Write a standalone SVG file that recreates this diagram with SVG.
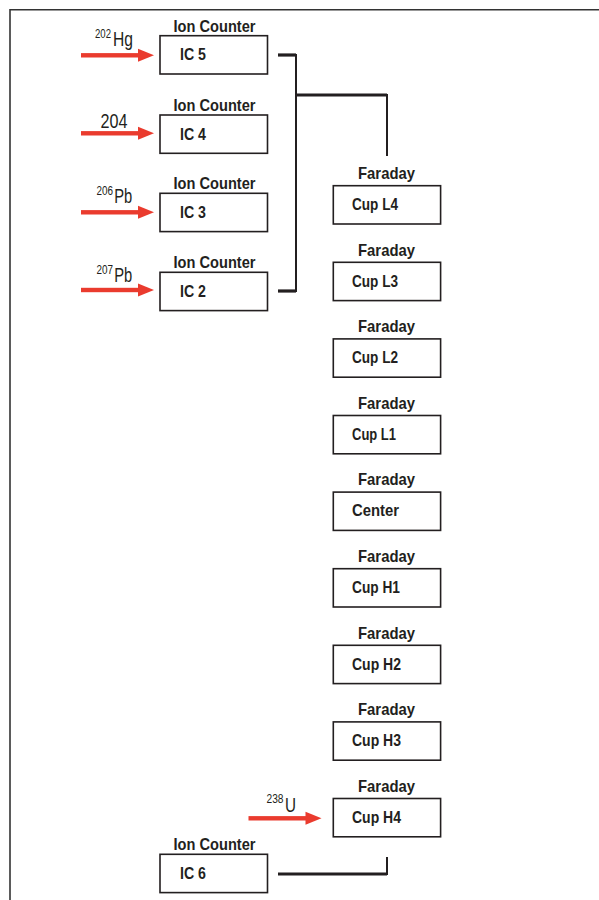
<svg xmlns="http://www.w3.org/2000/svg" width="599" height="900" viewBox="0 0 599 900">
<style>
.box{fill:#fff;stroke:#231f20;stroke-width:1.6}
.hd{font-family:"Liberation Sans",Arial,sans-serif;font-weight:bold;font-size:17px;fill:#231f20;text-anchor:middle}
.nm{font-family:"Liberation Sans",Arial,sans-serif;font-weight:bold;font-size:16.5px;fill:#231f20}
.iso{font-family:"Liberation Sans",Arial,sans-serif;font-size:21px;fill:#231f20}
.sup{font-size:12.5px}
.thick{stroke:#231f20;stroke-width:3.2;fill:none}
.thin{stroke:#231f20;stroke-width:2;fill:none}
.ar{fill:#ea3b2e}
</style>
<defs>
<g id="arrow"><rect x="0" y="-2.2" width="60" height="4.4" class="ar"/><polygon points="57,-6.5 73,0 57,6.5" class="ar"/></g>
</defs>
<path d="M10 900 V9.7 H599" fill="none" stroke="#333" stroke-width="1.6"/>
<g id="connectors">
<path class="thick" d="M278 55 H296"/>
<path class="thick" d="M278 291 H296"/>
<path class="thin" d="M296 54 V292"/>
<path class="thick" d="M295 95 H387"/>
<path class="thin" d="M387 94 V156"/>
<path class="thick" d="M278 874 H387"/>
<path class="thin" d="M387 857 V875"/>
</g>
<g id="beams">
<use href="#arrow" x="81" y="55.3"/>
<use href="#arrow" x="81" y="133.3"/>
<use href="#arrow" x="81" y="212.3"/>
<use href="#arrow" x="81" y="290"/>
<use href="#arrow" x="248.5" y="818.3"/>
<text class="iso" x="95" y="38"><tspan class="sup" textLength="16" lengthAdjust="spacingAndGlyphs">202</tspan><tspan x="113" y="46" textLength="20" lengthAdjust="spacingAndGlyphs">Hg</tspan></text>
<text class="iso" x="100.5" y="127.5" textLength="27" lengthAdjust="spacingAndGlyphs">204</text>
<text class="iso" x="96.5" y="195"><tspan class="sup" textLength="16.5" lengthAdjust="spacingAndGlyphs">206</tspan><tspan x="114.3" y="203.3" textLength="18" lengthAdjust="spacingAndGlyphs">Pb</tspan></text>
<text class="iso" x="96.5" y="273.5"><tspan class="sup" textLength="16.5" lengthAdjust="spacingAndGlyphs">207</tspan><tspan x="114.3" y="282" textLength="18" lengthAdjust="spacingAndGlyphs">Pb</tspan></text>
<text class="iso" x="266.5" y="803"><tspan class="sup" textLength="17" lengthAdjust="spacingAndGlyphs">238</tspan><tspan x="285" y="811.7" textLength="11" lengthAdjust="spacingAndGlyphs">U</tspan></text>
</g>
<g id="ic5"><text class="hd" x="214.5" y="31.5" textLength="82" lengthAdjust="spacingAndGlyphs">Ion Counter</text><rect class="box" x="160" y="35.7" width="107.5" height="38.3"/><text class="nm" x="180" y="60.3" textLength="26" lengthAdjust="spacingAndGlyphs">IC 5</text></g>
<g id="ic4"><text class="hd" x="214.5" y="110.5" textLength="82" lengthAdjust="spacingAndGlyphs">Ion Counter</text><rect class="box" x="160" y="115" width="107.5" height="38.3"/><text class="nm" x="180" y="139.5" textLength="26" lengthAdjust="spacingAndGlyphs">IC 4</text></g>
<g id="ic3"><text class="hd" x="214.5" y="189" textLength="82" lengthAdjust="spacingAndGlyphs">Ion Counter</text><rect class="box" x="160" y="193.3" width="107.5" height="38.3"/><text class="nm" x="180" y="218" textLength="26" lengthAdjust="spacingAndGlyphs">IC 3</text></g>
<g id="ic2"><text class="hd" x="214.5" y="268" textLength="82" lengthAdjust="spacingAndGlyphs">Ion Counter</text><rect class="box" x="160" y="272.3" width="107.5" height="38.3"/><text class="nm" x="180" y="296.8" textLength="26" lengthAdjust="spacingAndGlyphs">IC 2</text></g>
<g id="ic6"><text class="hd" x="214.5" y="850" textLength="82" lengthAdjust="spacingAndGlyphs">Ion Counter</text><rect class="box" x="160" y="854.3" width="107.5" height="38.3"/><text class="nm" x="180" y="879" textLength="26" lengthAdjust="spacingAndGlyphs">IC 6</text></g>
<g id="cupL4"><text class="hd" x="386.5" y="179" textLength="57" lengthAdjust="spacingAndGlyphs">Faraday</text><rect class="box" x="333.3" y="185.7" width="107.3" height="38.3"/><text class="nm" x="352" y="210" textLength="46" lengthAdjust="spacingAndGlyphs">Cup L4</text></g>
<g id="cupL3"><text class="hd" x="386.5" y="255.6" textLength="57" lengthAdjust="spacingAndGlyphs">Faraday</text><rect class="box" x="333.3" y="262.3" width="107.3" height="38.3"/><text class="nm" x="352" y="286.6" textLength="46" lengthAdjust="spacingAndGlyphs">Cup L3</text></g>
<g id="cupL2"><text class="hd" x="386.5" y="332.2" textLength="57" lengthAdjust="spacingAndGlyphs">Faraday</text><rect class="box" x="333.3" y="338.9" width="107.3" height="38.3"/><text class="nm" x="352" y="363.2" textLength="46" lengthAdjust="spacingAndGlyphs">Cup L2</text></g>
<g id="cupL1"><text class="hd" x="386.5" y="408.8" textLength="57" lengthAdjust="spacingAndGlyphs">Faraday</text><rect class="box" x="333.3" y="415.5" width="107.3" height="38.3"/><text class="nm" x="352" y="439.8" textLength="44" lengthAdjust="spacingAndGlyphs">Cup L1</text></g>
<g id="center"><text class="hd" x="386.5" y="485.4" textLength="57" lengthAdjust="spacingAndGlyphs">Faraday</text><rect class="box" x="333.3" y="492.1" width="107.3" height="38.3"/><text class="nm" x="352" y="516.2" textLength="47" lengthAdjust="spacingAndGlyphs">Center</text></g>
<g id="cupH1"><text class="hd" x="386.5" y="562" textLength="57" lengthAdjust="spacingAndGlyphs">Faraday</text><rect class="box" x="333.3" y="568.7" width="107.3" height="38.3"/><text class="nm" x="352" y="593" textLength="48" lengthAdjust="spacingAndGlyphs">Cup H1</text></g>
<g id="cupH2"><text class="hd" x="386.5" y="638.6" textLength="57" lengthAdjust="spacingAndGlyphs">Faraday</text><rect class="box" x="333.3" y="645.3" width="107.3" height="38.3"/><text class="nm" x="352" y="669.6" textLength="49" lengthAdjust="spacingAndGlyphs">Cup H2</text></g>
<g id="cupH3"><text class="hd" x="386.5" y="715.2" textLength="57" lengthAdjust="spacingAndGlyphs">Faraday</text><rect class="box" x="333.3" y="721.9" width="107.3" height="38.3"/><text class="nm" x="352" y="746.2" textLength="49" lengthAdjust="spacingAndGlyphs">Cup H3</text></g>
<g id="cupH4"><text class="hd" x="386.5" y="791.8" textLength="57" lengthAdjust="spacingAndGlyphs">Faraday</text><rect class="box" x="333.3" y="798.5" width="107.3" height="38.3"/><text class="nm" x="352" y="822.8" textLength="49" lengthAdjust="spacingAndGlyphs">Cup H4</text></g>
</svg>
